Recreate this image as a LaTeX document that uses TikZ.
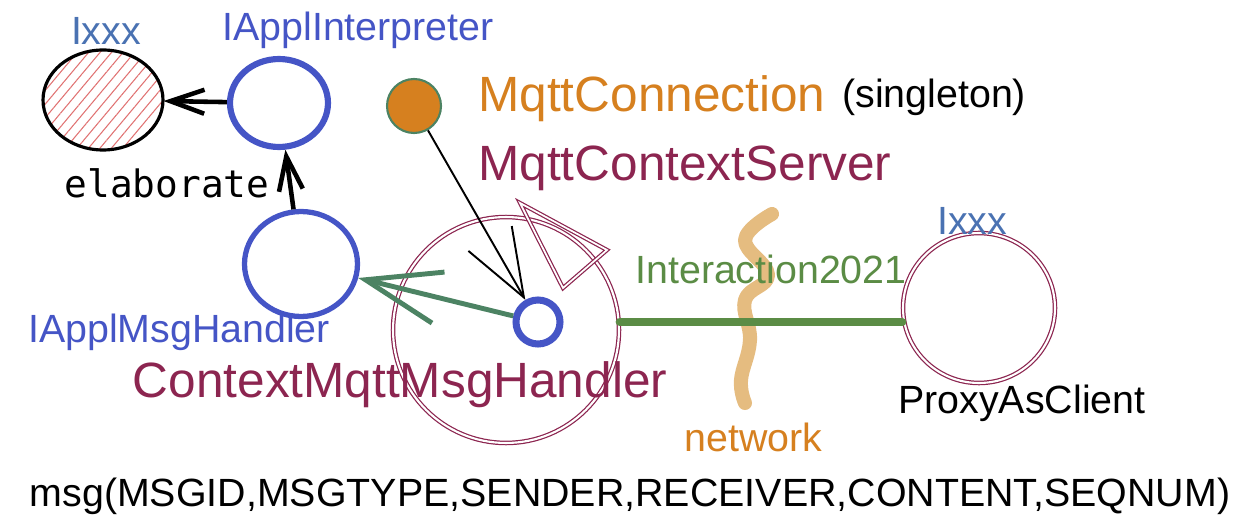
\documentclass[tikz,border=0pt]{standalone}
\usepackage{fontspec}
\setmainfont{Liberation Sans}
\newfontfamily\codefont{DejaVu Sans Mono}
\usepackage{tikz}
\usepackage{xcolor}
\usetikzlibrary{arrows.meta, shapes.geometric, patterns.meta}

\definecolor{ifblue}{HTML}{4555C6}
\definecolor{ixblue}{HTML}{4A72B2}
\definecolor{ctxred}{HTML}{8C2550}
\definecolor{mqorange}{HTML}{D6801F}
\definecolor{linkgreen}{HTML}{4C8363}
\definecolor{netgreen}{HTML}{5B8C45}
\definecolor{nettan}{HTML}{E5BC80}
\definecolor{hatchred}{HTML}{E07272}

\begin{document}
\begin{tikzpicture}[x=0.02cm, y=-0.02cm,
  lbl/.style={font=\fontsize{22.4}{26}\selectfont, inner sep=0pt},
  biglbl/.style={font=\fontsize{28.2}{32}\selectfont, inner sep=0pt},
  ring/.style={ellipse, draw, inner sep=0pt},
  bluering/.style={ring, draw=ifblue, line width=3.5pt},
  redring/.style={ring, draw=ctxred, line width=0.7pt, double=white, double distance=1.2pt},
  sketcharrow/.style={line width=2.6pt, -{Straight Barb[length=0.68cm, width=0.48cm]}},
]
\useasboundingbox (0,0) rectangle (1258,527);

% netzwerk (hinten)
\draw[nettan, line width=8pt, line cap=round, line join=round]
  plot[smooth, tension=0.7] coordinates {(772,214) (745,240) (768,275) (745,300) (750,340) (741,380) (745,403)};

% Knoten
\node[ring, draw=black, line width=1.8pt, minimum width=2.4cm, minimum height=2.0cm,
  pattern={Lines[angle=50, distance=5pt, line width=0.6pt]}, pattern color=hatchred] (ixxx) at (103,100) {};
\node[bluering, minimum width=1.96cm, minimum height=1.76cm] (interp) at (279,103) {};
\node[bluering, line width=3pt, minimum width=2.26cm, minimum height=2.1cm] (handler) at (301,264) {};
\node[redring, minimum width=4.52cm, minimum height=4.52cm] (ctx) at (506,330) {};
\node[bluering, line width=4pt, minimum width=0.88cm, minimum height=0.88cm] (core) at (538,322) {};
\node[circle, fill=mqorange, draw=linkgreen, line width=1.2pt, minimum size=1.08cm, inner sep=0pt] (conn) at (414,106) {};
\node[redring, minimum width=3.04cm, minimum height=3.0cm] (proxy) at (979,308) {};

% Dreieck am Kontext
\draw[ctxred, line width=0.7pt, double=white, double distance=1pt] (520,203) -- (607,250) -- (563,288) -- cycle;

% Beschriftungen
\node[lbl, ixblue, anchor=base] (ixxxlbl) at (106,45) {Ixxx};
\node[lbl, ifblue, anchor=base] (interplbl) at (358,41) {IApplInterpreter};
\node[lbl, ifblue, anchor=base] (handlerlbl) at (179,342) {IApplMsgHandler};
\node[font=\codefont\fontsize{21.5}{26}\selectfont, inner sep=0pt, anchor=base] (elab) at (167,197) {elaborate};
\node[biglbl, mqorange, anchor=base west] (connlbl) at (478,112) {MqttConnection};
\node[lbl, anchor=base west] (single) at (842,108) {(singleton)};
\node[biglbl, ctxred, anchor=base west] (serverlbl) at (478,180) {MqttContextServer};
\node[biglbl, ctxred, anchor=base] (ctxlbl) at (400,397) {ContextMqttMsgHandler};
\node[lbl, netgreen, anchor=base west] (interlbl) at (635,283) {Interaction2021};
\node[lbl, ixblue, anchor=base west] (proxyix) at (937,235) {Ixxx};
\node[lbl, anchor=base west] (proxylbl) at (898,413) {ProxyAsClient};
\node[lbl, mqorange, anchor=base west] (netlbl) at (684,451) {network};
\node[lbl, anchor=base] (msglbl) at (630,506) {msg(MSGID,MSGTYPE,SENDER,RECEIVER,CONTENT,SEQNUM)};

% Verbindungen
\draw[sketcharrow] (interp) -- (ixxx);
\draw[sketcharrow] (handler) -- (interp);
\draw[line width=1.1pt, -{Straight Barb[length=1.36cm, width=1cm]}] (conn) -- (core);
\draw[linkgreen, line width=2.8pt, -{Straight Barb[length=1.5cm, width=1.05cm]}] (core) -- (handler);
\draw[netgreen, line width=4.5pt, line cap=round] (core.center -| ctx.east) -- (core.center -| proxy.west);

\end{tikzpicture}
\end{document}
